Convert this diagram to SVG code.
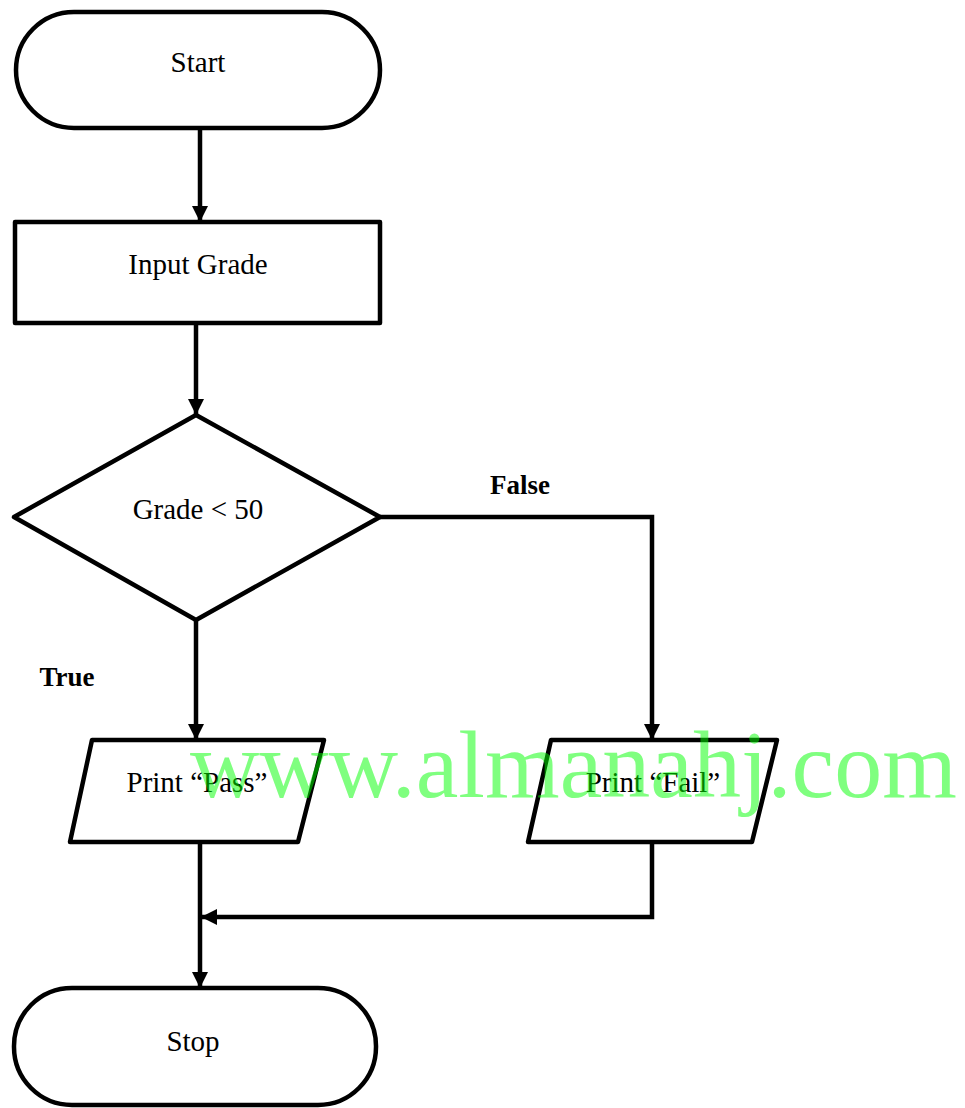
<svg xmlns="http://www.w3.org/2000/svg" width="965" height="1108" viewBox="0 0 965 1108">
<style>
.shape{fill:#fff;stroke:#000;stroke-width:4.5;stroke-linejoin:round}
.conn{fill:none;stroke:#000;stroke-width:4.5}
.t{font-family:"Liberation Serif","Times New Roman",serif;font-size:29px;fill:#000;text-anchor:middle}
.b{font-family:"Liberation Serif","Times New Roman",serif;font-size:27px;font-weight:bold;fill:#000;text-anchor:middle}
.wm{font-family:"Liberation Serif","Times New Roman",serif;font-size:96px;fill:#00ff00;fill-opacity:0.5}
</style>
<defs>
<marker id="arr" markerUnits="userSpaceOnUse" markerWidth="16" markerHeight="16" viewBox="0 0 16 16" refX="16" refY="8" orient="auto">
<path d="M0,0 L16,8 L0,16 Z" fill="#000"/>
</marker>
</defs>
<g id="connectors">
<path class="conn" d="M200,128 V222" marker-end="url(#arr)"/>
<path class="conn" d="M196,323 V415" marker-end="url(#arr)"/>
<path class="conn" d="M196,620 V740" marker-end="url(#arr)"/>
<path class="conn" d="M380,517 H652 V740" marker-end="url(#arr)"/>
<path class="conn" d="M200,842 V988" marker-end="url(#arr)"/>
<path class="conn" d="M652,842 V917 H201" marker-end="url(#arr)"/>
</g>
<g id="start"><rect class="shape" x="16" y="12" width="364" height="116" rx="58"/><text class="t" x="198" y="72">Start</text></g>
<g id="input"><rect class="shape" x="15" y="222" width="365" height="101"/><text class="t" x="198" y="274">Input Grade</text></g>
<g id="decision"><polygon class="shape" points="196,415 380,517 196,620 14,517"/><text class="t" x="198" y="519">Grade &lt; 50</text></g>
<g id="pass"><polygon class="shape" points="92,740 324,740 298,842 70,842"/><text class="t" x="197" y="792">Print “Pass”</text></g>
<g id="fail"><polygon class="shape" points="551,740 777,740 752,842 528,842"/><text class="t" x="653" y="792">Print “Fail”</text></g>
<g id="stop"><rect class="shape" x="14" y="988" width="362" height="117" rx="58"/><text class="t" x="193" y="1051">Stop</text></g>
<text class="b" x="520" y="494">False</text>
<text class="b" x="67" y="686">True</text>
<text class="wm" x="190" y="797">www.almanahj.com</text>
</svg>
